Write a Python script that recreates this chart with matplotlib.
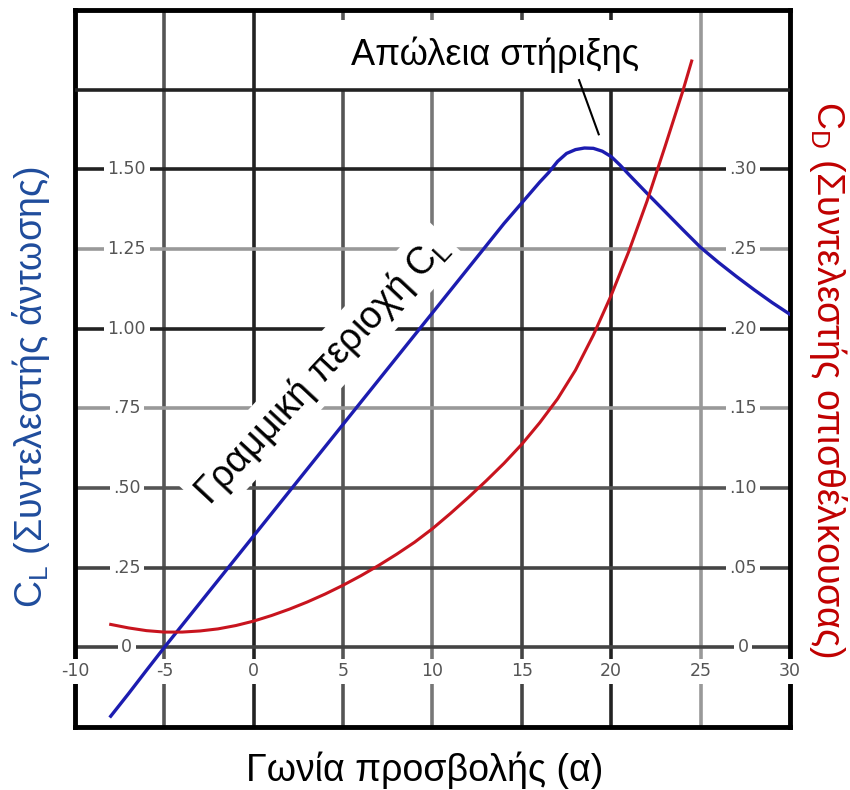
import matplotlib.pyplot as plt

plt.rcParams['font.family'] = ['Liberation Sans', 'DejaVu Sans']
plt.rcParams['mathtext.fontset'] = 'custom'
plt.rcParams['mathtext.rm'] = 'Liberation Sans'

# CL curve (blue)
aoa_cl = [-8, -7, -6, -5, -4, -3, -2, -1, 0, 1, 2, 3, 4, 5, 6, 7, 8, 9, 10, 11, 12,
          13, 14, 15, 16, 16.5, 17, 17.5, 18, 18.5, 19, 19.5, 20, 20.5, 21, 22,
          23, 24, 25, 26, 27, 28, 29, 30]
cl = [-0.216, -0.145, -0.072, 0.0, 0.07, 0.14, 0.21, 0.28, 0.35, 0.42, 0.49, 0.56,
      0.63, 0.70, 0.77, 0.84, 0.91, 0.98, 1.05, 1.12, 1.19, 1.26, 1.33, 1.395,
      1.46, 1.49, 1.525, 1.55, 1.562, 1.567, 1.566, 1.557, 1.54, 1.513, 1.483,
      1.425, 1.368, 1.311, 1.255, 1.208, 1.164, 1.122, 1.082, 1.045]

# CD curve (red)
aoa_cd = [-8, -7, -6, -5, -4, -3, -2, -1, 0, 1, 2, 3, 4, 5, 6, 7, 8, 9, 10, 11, 12,
          13, 14, 15, 16, 17, 18, 19, 20, 21, 22, 23, 24, 24.5]
cd = [0.0144, 0.0122, 0.0105, 0.0096, 0.0096, 0.0103, 0.0116, 0.0137, 0.0165,
      0.0200, 0.0240, 0.0285, 0.0335, 0.0390, 0.0450, 0.0515, 0.0585, 0.0660,
      0.0745, 0.0840, 0.0940, 0.1045, 0.1155, 0.1275, 0.141, 0.156, 0.174,
      0.196, 0.221, 0.249, 0.280, 0.314, 0.349, 0.368]

x_ticks = [-10, -5, 0, 5, 10, 15, 20, 25, 30]
x_labels = ['-10', '-5', '0', '5', '10', '15', '20', '25', '30']
cl_ticks = [0, 0.25, 0.50, 0.75, 1.00, 1.25, 1.50]
cl_labels = ['0', '.25', '.50', '.75', '1.00', '1.25', '1.50']
cd_ticks = [0, 0.05, 0.10, 0.15, 0.20, 0.25, 0.30]
cd_labels = ['0', '.05', '.10', '.15', '.20', '.25', '.30']

# grid shades, like the scanned original
vgrid = [-5, 0, 5, 10, 15, 20, 25]
vcol = ['#555555', '#222222', '#555555', '#777777', '#444444', '#222222', '#999999']
hgrid = [0, 0.25, 0.50, 0.75, 1.00, 1.25, 1.50]
hcol = ['#444444', '#444444', '#555555', '#999999', '#222222', '#999999', '#222222']

fig = plt.figure(figsize=(8.5, 7.9), dpi=100)
ax = fig.add_axes([0.0882, 0.0797, 0.8412, 0.9076])
ax.set_xlim(-10, 30)
ax.set_ylim(-0.25, 2.0)
ax.set_xticks([])
ax.set_yticks([])
for s in ax.spines.values():
    s.set_linewidth(3.5)
    s.set_color('black')

for v, c in zip(vgrid, vcol):
    ax.axvline(v, color=c, lw=2.6, zorder=1)
for h, c in zip(hgrid, hcol):
    ax.axhline(h, color=c, lw=2.6, zorder=1)
# top line stays above the label box
ax.axhline(1.75, color='#222222', lw=2.6, zorder=4)

tick_style = dict(fontsize=12.5, color='#555555', family='DejaVu Sans',
                  ha='center', va='center', zorder=3,
                  bbox=dict(facecolor='white', edgecolor='none', pad=2.5))
for v, t in zip(cl_ticks, cl_labels):
    ax.text(-7.1, v, t, **tick_style)
for v, t in zip(x_ticks, x_labels):
    ax.text(v, -0.075, t, **tick_style)

ax.plot(aoa_cl, cl, color='#1c1cb0', lw=2.4, zorder=5)

ax2 = ax.twinx()
ax2.set_ylim(-0.05, 0.40)
ax2.set_yticks([])
for s in ax2.spines.values():
    s.set_visible(False)
for v, t in zip(cd_ticks, cd_labels):
    ax2.text(27.37, v, t, **tick_style)
ax2.plot(aoa_cd, cd, color='#c8141e', lw=2.2, zorder=5)

# annotations
ax.text(13.5, 1.86, 'Απώλεια στήριξης', fontsize=26, ha='center', va='center',
        zorder=3, bbox=dict(facecolor='white', edgecolor='none', pad=12))
ax.plot([18.2, 19.3], [1.78, 1.61], color='black', lw=1.5, zorder=4)
ax.text(3.8, 0.87, 'Γραμμική περιοχή C$_{\\mathrm{L}}$', fontsize=27, rotation=47,
        rotation_mode='anchor', ha='center', va='center', zorder=3,
        bbox=dict(facecolor='white', edgecolor='none', pad=4))

fig.text(0.5, 0.025, 'Γωνία προσβολής (α)', fontsize=27, ha='center', va='center')
fig.text(0.036, 0.51, 'C$_{\\mathrm{L}}$ (Συντελεστής άντωσης)', fontsize=27,
         rotation=90, ha='center', va='center', color='#1f4c9c')
fig.text(0.974, 0.52, 'C$_{\\mathrm{D}}$ (Συντελεστής οπισθέλκουσας)', fontsize=27,
         rotation=270, ha='center', va='center', color='#c00000')

fig.savefig('out.png', dpi=100)
